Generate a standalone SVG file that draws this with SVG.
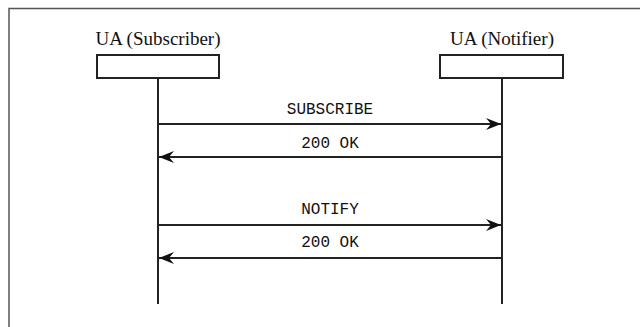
<svg xmlns="http://www.w3.org/2000/svg" width="640" height="327" viewBox="0 0 640 327">
<style>
.frame{fill:none;stroke:#555;stroke-width:1.5}
.box{fill:#fff;stroke:#222;stroke-width:2}
.life{stroke:#222;stroke-width:2;fill:none}
.msg{stroke:#222;stroke-width:2;fill:none}
.title{font-family:"Liberation Serif","Times New Roman",serif;font-size:19px;fill:#111;text-anchor:middle}
.lbl{font-family:"Liberation Mono","Courier New",monospace;font-size:16px;fill:#111;text-anchor:middle}
</style>
<defs>
<marker id="ah" markerWidth="16" markerHeight="12" refX="15" refY="6" orient="auto" markerUnits="userSpaceOnUse">
<path d="M0,0 L15,6 L0,12 L5,6 Z" fill="#111"/>
</marker>
</defs>
<rect width="640" height="327" fill="#fff"/>
<path class="frame" d="M9,327 V8.5 H640"/>
<g id="subscriber">
<text class="title" x="158" y="45">UA (Subscriber)</text>
<rect class="box" x="97" y="55" width="122" height="23"/>
<line class="life" x1="158" y1="78" x2="158" y2="304"/>
</g>
<g id="notifier">
<text class="title" x="502" y="45">UA (Notifier)</text>
<rect class="box" x="440" y="55" width="123" height="23"/>
<line class="life" x1="502" y1="78" x2="502" y2="304"/>
</g>
<g id="connectors">
<line class="msg" x1="159" y1="124" x2="501" y2="124" marker-end="url(#ah)"/>
<text class="lbl" x="330" y="114">SUBSCRIBE</text>
<line class="msg" x1="501" y1="157" x2="159" y2="157" marker-end="url(#ah)"/>
<text class="lbl" x="330" y="148">200 OK</text>
<line class="msg" x1="159" y1="225" x2="501" y2="225" marker-end="url(#ah)"/>
<text class="lbl" x="330" y="214">NOTIFY</text>
<line class="msg" x1="501" y1="258" x2="159" y2="258" marker-end="url(#ah)"/>
<text class="lbl" x="330" y="247">200 OK</text>
</g>
</svg>
